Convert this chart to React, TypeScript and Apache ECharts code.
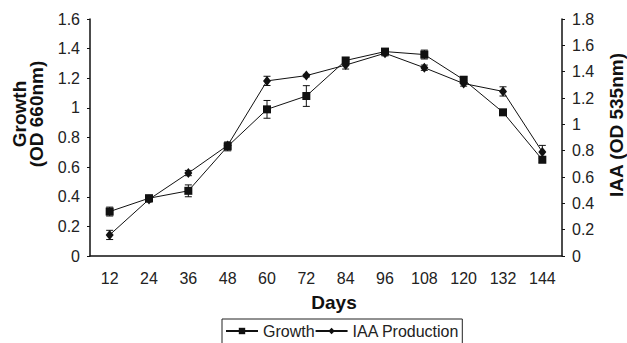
import React, { useEffect, useRef } from "react";
import * as echarts from "echarts";

const days = ["12", "24", "36", "48", "60", "72", "84", "96", "108", "120", "132", "144"];
const growth = [0.3, 0.39, 0.44, 0.74, 0.99, 1.08, 1.32, 1.38, 1.36, 1.19, 0.97, 0.65];
const growthErr = [0.03, 0.02, 0.04, 0.03, 0.06, 0.07, 0.02, 0.02, 0.03, 0.02, 0.01, 0.02];
const iaa = [0.16, 0.43, 0.63, 0.84, 1.33, 1.37, 1.45, 1.54, 1.43, 1.31, 1.25, 0.79];
const iaaErr = [0.035, 0.02, 0.02, 0.02, 0.035, 0.01, 0.03, 0.02, 0.02, 0.02, 0.035, 0.05];
const leftTicks = { min: 0, max: 1.6, interval: 0.2 };
const rightTicks = { min: 0, max: 1.8, interval: 0.2 };

const FONT = "Liberation Sans, Arial, sans-serif";

function errorSeries(values: number[], errs: number[], yAxisIndex: number) {
  return {
    type: "custom",
    yAxisIndex,
    z: 1,
    silent: true,
    data: values.map((v, i) => [i, v - errs[i], v + errs[i]]),
    encode: { x: 0, y: [1, 2] },
    renderItem: (params: any, api: any) => {
      const x = api.value(0);
      const lo = api.coord([x, api.value(1)]);
      const hi = api.coord([x, api.value(2)]);
      const w = 3.5;
      const style = { stroke: "#111", lineWidth: 1, fill: "none" };
      return {
        type: "group",
        children: [
          { type: "line", shape: { x1: lo[0], y1: lo[1], x2: hi[0], y2: hi[1] }, style },
          { type: "line", shape: { x1: lo[0] - w, y1: lo[1], x2: lo[0] + w, y2: lo[1] }, style },
          { type: "line", shape: { x1: hi[0] - w, y1: hi[1], x2: hi[0] + w, y2: hi[1] }, style },
        ],
      };
    },
  };
}

export default function App() {
  const ref = useRef<HTMLDivElement>(null);
  useEffect(() => {
    if (!ref.current) return;
    const chart = echarts.init(ref.current, undefined, { renderer: "svg" });
    const axisLabel = { color: "#222", fontSize: 16, fontFamily: FONT };
    const nameFont = "bold 19px Liberation Sans, Arial, sans-serif";
    chart.setOption({
      animation: false,
      backgroundColor: "#fff",
      grid: { left: 90, right: 65, top: 19, bottom: 87, containLabel: false },
      legend: {
        left: 222,
        top: 319,
        orient: "horizontal",
        itemGap: 0,
        itemWidth: 32,
        itemHeight: 8,
        padding: [4, 3, 6, 3],
        borderColor: "#222",
        borderWidth: 1,
        borderRadius: 0,
        textStyle: { color: "#222", fontSize: 16, fontFamily: FONT },
        data: ["Growth", "IAA Production"],
      },
      xAxis: {
        type: "category",
        data: days,
        boundaryGap: true,
        axisLine: { lineStyle: { color: "#111", width: 1.5 } },
        axisTick: { inside: true, length: 5, lineStyle: { color: "#111" } },
        axisLabel: { ...axisLabel, margin: 14 },
      },
      yAxis: [
        {
          type: "value",
          ...leftTicks,
          position: "left",
          axisLine: { show: true, lineStyle: { color: "#111", width: 1.5 } },
          axisTick: { show: true, length: 3, lineStyle: { color: "#111" } },
          axisLabel: { ...axisLabel, margin: 10 },
          splitLine: { show: false },
        },
        {
          type: "value",
          ...rightTicks,
          position: "right",
          axisLine: { show: true, lineStyle: { color: "#111", width: 1.5 } },
          axisTick: { show: true, length: 3, lineStyle: { color: "#111" } },
          axisLabel: { ...axisLabel, margin: 10 },
          splitLine: { show: false },
        },
      ],
      graphic: [
        {
          type: "text",
          x: 334,
          y: 302,
          style: {
            text: "Days",
            fill: "#111",
            font: nameFont,
            align: "center",
            verticalAlign: "middle",
          },
        },
        {
          type: "text",
          x: 28,
          y: 114,
          rotation: Math.PI / 2,
          style: {
            text: "Growth\n(OD 660nm)",
            fill: "#111",
            font: nameFont,
            align: "center",
            verticalAlign: "middle",
            lineHeight: 17,
          },
        },
        {
          type: "text",
          x: 616,
          y: 125,
          rotation: Math.PI / 2,
          style: {
            text: "IAA (OD 535nm)",
            fill: "#111",
            font: nameFont,
            align: "center",
            verticalAlign: "middle",
          },
        },
      ],
      series: [
        errorSeries(growth, growthErr, 0),
        errorSeries(iaa, iaaErr, 1),
        {
          name: "Growth",
          type: "line",
          yAxisIndex: 0,
          data: growth,
          symbol: "rect",
          symbolSize: 8,
          z: 3,
          lineStyle: { color: "#111", width: 1 },
          itemStyle: { color: "#111" },
        },
        {
          name: "IAA Production",
          type: "line",
          yAxisIndex: 1,
          data: iaa,
          symbol: "diamond",
          symbolSize: [8, 10],
          z: 3,
          lineStyle: { color: "#111", width: 1 },
          itemStyle: { color: "#111" },
        },
      ],
    });
    return () => chart.dispose();
  }, []);
  return <div ref={ref} style={{ width: 627, height: 343, position: "absolute", left: 0, top: 0 }} />;
}
